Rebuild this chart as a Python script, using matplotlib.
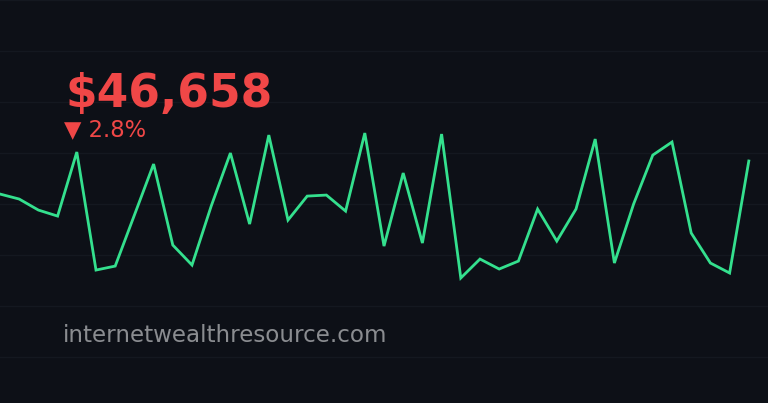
import numpy as np
import matplotlib.pyplot as plt

# price series (one point per step)
prices = [45598, 45549, 45441, 45382, 46010, 44853, 44892, 45392, 45892, 45098,
          44902, 45480, 46000, 45304, 46176, 45343, 45578, 45588, 45431, 46196,
          45088, 45804, 45118, 46186, 44775, 44961, 44863, 44941, 45451, 45137,
          45451, 46137, 44922, 45500, 45980, 46108, 45216, 44922, 44824, 45922]
price_label = "$46,658"
change_label = "\u25bc 2.8%"
site = "internetwealthresource.com"

bg = "#0d1017"
green = "#34e08e"
red = "#f04747"

fig = plt.figure(figsize=(7.68, 4.03), dpi=100, facecolor=bg)
ax = fig.add_axes([0, 0, 1, 1], facecolor=bg)

x = np.arange(len(prices))
ax.plot(x, prices, color=green, linewidth=2.0, solid_joinstyle="miter")

ax.set_xlim(0, len(prices))
ax.set_ylim(43550, 47500)
ax.set_yticks(np.arange(44000, 47501, 500))
ax.grid(axis="y", color="#141820", linewidth=1)
ax.tick_params(left=False, bottom=False, labelleft=False, labelbottom=False)
for s in ax.spines.values():
    s.set_visible(False)

fig.text(0.085, 0.735, price_label, color=red, fontsize=32.8, fontweight="bold",
         va="baseline", ha="left")
fig.text(0.083, 0.661, change_label, color=red, fontsize=16.3,
         va="baseline", ha="left")
fig.text(0.082, 0.152, site, color="#8a8c90", fontsize=16.6,
         va="baseline", ha="left")

fig.savefig("out.png", dpi=100, facecolor=bg)
